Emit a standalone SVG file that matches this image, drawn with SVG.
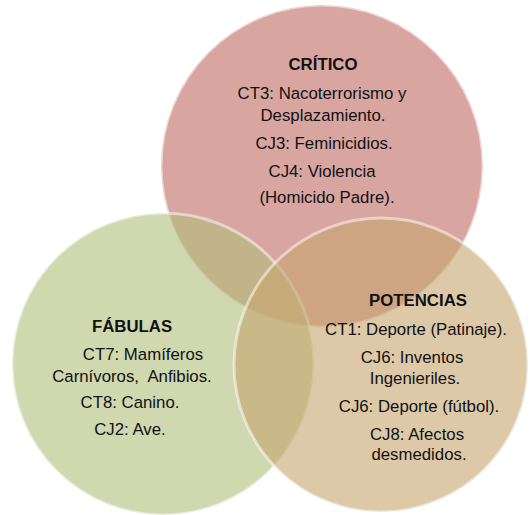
<svg xmlns="http://www.w3.org/2000/svg" width="530" height="515" viewBox="0 0 530 515">
<style>
.c{stroke:#ffffff;stroke-opacity:0.5;stroke-width:3}
.t{font-family:"Liberation Sans",Arial,sans-serif;font-size:16.8px;fill:#111;text-anchor:middle}
.b{font-weight:bold}
</style>
<rect width="530" height="515" fill="#ffffff"/>
<g id="critico">
<circle class="c" cx="322" cy="166" r="161" fill="rgb(192,105,97)" fill-opacity="0.6"/>
</g>
<g id="fabulas">
<circle class="c" cx="163" cy="364" r="151" fill="rgb(177,190,123)" fill-opacity="0.6"/>
</g>
<g id="potencias">
<circle class="c" cx="381" cy="365" r="147" fill="rgb(198,165,110)" fill-opacity="0.6"/>
</g>
<g id="labels-critico">
<text class="t b" x="323" y="70">CRÍTICO</text>
<text class="t" x="322" y="99">CT3: Nacoterrorismo y</text>
<text class="t" x="323" y="121">Desplazamiento.</text>
<text class="t" x="324" y="149">CJ3: Feminicidios.</text>
<text class="t" x="322" y="177">CJ4: Violencia</text>
<text class="t" x="327" y="203">(Homicido Padre).</text>
</g>
<g id="labels-fabulas">
<text class="t b" x="132" y="332">FÁBULAS</text>
<text class="t" x="143" y="360">CT7: Mamíferos</text>
<text class="t" x="132" y="382">Carnívoros,&#160; Anfibios.</text>
<text class="t" x="130" y="408">CT8: Canino.</text>
<text class="t" x="130" y="435">CJ2: Ave.</text>
</g>
<g id="labels-potencias">
<text class="t b" x="418" y="306">POTENCIAS</text>
<text class="t" x="416" y="335">CT1: Deporte (Patinaje).</text>
<text class="t" x="412" y="363">CJ6: Inventos</text>
<text class="t" x="415" y="384">Ingenieriles.</text>
<text class="t" x="419" y="412">CJ6: Deporte (fútbol).</text>
<text class="t" x="417" y="440">CJ8: Afectos</text>
<text class="t" x="419" y="460">desmedidos.</text>
</g>
<g id="connectors"/>
</svg>
